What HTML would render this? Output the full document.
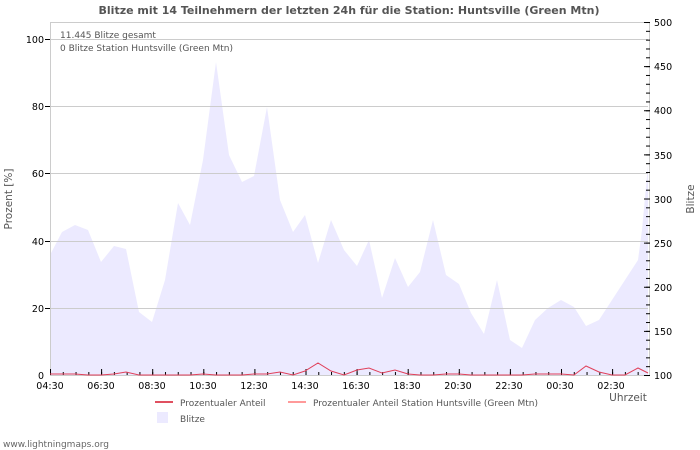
<!DOCTYPE html>
<html><head><meta charset="utf-8"><style>
html,body{margin:0;padding:0;background:#fff;}
svg{display:block;font-family:"DejaVu Sans","Liberation Sans",sans-serif;}
</style></head><body>
<svg width="700" height="450" viewBox="0 0 700 450">
<defs>
<pattern id="rmin" x="0" y="22" width="10" height="8.825" patternUnits="userSpaceOnUse"><rect x="0" y="0" width="10" height="1" fill="#000"/></pattern>
<pattern id="rmaj" x="0" y="22" width="10" height="44.125" patternUnits="userSpaceOnUse"><rect x="0" y="0" width="10" height="1" fill="#000"/></pattern>
<pattern id="bmin" x="50" y="0" width="12.775" height="10" patternUnits="userSpaceOnUse"><rect x="0" y="0" width="1" height="10" fill="#000"/></pattern>
<pattern id="bmaj" x="50" y="0" width="51.1" height="10" patternUnits="userSpaceOnUse"><rect x="0" y="0" width="1" height="10" fill="#000"/></pattern>
</defs>
<rect width="700" height="450" fill="#fff"/>
<text x="349" y="14" font-size="11" font-weight="bold" fill="#555" text-anchor="middle">Blitze mit 14 Teilnehmern der letzten 24h für die Station: Huntsville (Green Mtn)</text>
<polygon fill="#eceaff" points="50,375 50,255 62,232 75,225 88,230 101,262 114,246 126,249 139,312 152,322 165,280 178,203 190,225 203,160 216,62 229,155 242,182 254,176 267,107 280,200 293,232 305,215 318,263 331,220 344,250 357,266 369,240 382,298 395,258 408,287 420,272 433,220 446,275 459,284 471,313 484,334 497,280 510,340 522,348 535,320 548,308 561,300 574,307 586,326 599,320 612,300 625,280 638,260 642,230 648,165 648,375"/>
<g stroke="#ccc" stroke-width="1">
<line x1="50" y1="39.5" x2="648" y2="39.5"/>
<line x1="50" y1="106.5" x2="648" y2="106.5"/>
<line x1="50" y1="173.5" x2="648" y2="173.5"/>
<line x1="50" y1="241.5" x2="648" y2="241.5"/>
<line x1="50" y1="308.5" x2="648" y2="308.5"/>
<line x1="50.5" y1="22" x2="50.5" y2="375"/>
<line x1="50" y1="22.5" x2="648" y2="22.5"/>
<line x1="649.5" y1="22" x2="649.5" y2="375"/>
<line x1="50" y1="375.5" x2="649" y2="375.5"/>
</g>
<g stroke="#000" stroke-width="1">
<line x1="45" y1="39.5" x2="50" y2="39.5"/><line x1="45" y1="106.5" x2="50" y2="106.5"/><line x1="45" y1="173.5" x2="50" y2="173.5"/><line x1="45" y1="241.5" x2="50" y2="241.5"/><line x1="45" y1="308.5" x2="50" y2="308.5"/>
</g>
<rect x="646" y="22" width="4" height="355" fill="url(#rmin)"/>
<rect x="644" y="22" width="6" height="355" fill="url(#rmaj)"/>
<rect x="50" y="372" width="600" height="3" fill="url(#bmin)"/>
<rect x="50" y="369" width="600" height="6" fill="url(#bmaj)"/>
<g font-size="9.5" fill="#000" text-anchor="end">
<text x="44" y="43">100</text><text x="44" y="110">80</text><text x="44" y="177">60</text><text x="44" y="245">40</text><text x="44" y="312">20</text><text x="44" y="379">0</text>
</g>
<g font-size="9.5" fill="#000">
<text x="654" y="26">500</text><text x="654" y="70">450</text><text x="654" y="114">400</text><text x="654" y="159">350</text><text x="654" y="203">300</text><text x="654" y="247">250</text><text x="654" y="291">200</text><text x="654" y="335">150</text><text x="654" y="379">100</text>
</g>
<g font-size="9.5" fill="#000" text-anchor="middle">
<text x="50" y="389">04:30</text><text x="101" y="389">06:30</text><text x="152" y="389">08:30</text><text x="203" y="389">10:30</text><text x="254" y="389">12:30</text><text x="305" y="389">14:30</text><text x="356" y="389">16:30</text><text x="407" y="389">18:30</text><text x="458" y="389">20:30</text><text x="509" y="389">22:30</text><text x="560" y="389">00:30</text><text x="611" y="389">02:30</text>
</g>
<polyline fill="none" stroke="#e0405a" stroke-width="1" points="50,374 62,374 75,374 88,375 101,375 114,374 126,372 139,375 152,375 165,375 178,375 190,375 203,374 216,375 229,375 242,375 254,374 267,374 280,372 293,375 305,371 318,363 331,371 344,375 357,370 369,368 382,373 395,370 408,374 420,375 433,375 446,374 459,374 471,375 484,375 497,375 510,375 522,375 535,374 548,374 561,374 574,375 586,366 599,372 612,375 625,375 638,368 648,373"/>
<text x="628" y="401" font-size="10.5" fill="#555" text-anchor="middle">Uhrzeit</text>
<text transform="translate(12,199) rotate(-90)" font-size="10.5" fill="#555" text-anchor="middle">Prozent   [%]</text>
<text transform="translate(694,199) rotate(-90)" font-size="10.5" fill="#555" text-anchor="middle">Blitze</text>
<text x="60" y="38" font-size="9" fill="#555">11.445 Blitze gesamt</text>
<text x="60" y="51" font-size="9" fill="#555">0 Blitze Station Huntsville (Green Mtn)</text>
<line x1="155" y1="402" x2="173" y2="402" stroke="#e05060" stroke-width="2"/>
<text x="180" y="406" font-size="9" fill="#555">Prozentualer Anteil</text>
<line x1="288" y1="402" x2="306" y2="402" stroke="#ff9a9a" stroke-width="2"/>
<text x="313" y="406" font-size="9" fill="#555">Prozentualer Anteil Station Huntsville (Green Mtn)</text>
<rect x="157" y="412" width="11" height="11" fill="#eceaff"/>
<text x="180" y="422" font-size="9" fill="#555">Blitze</text>
<text x="3" y="447" font-size="9" fill="#666">www.lightningmaps.org</text>
</svg>
</body></html>
